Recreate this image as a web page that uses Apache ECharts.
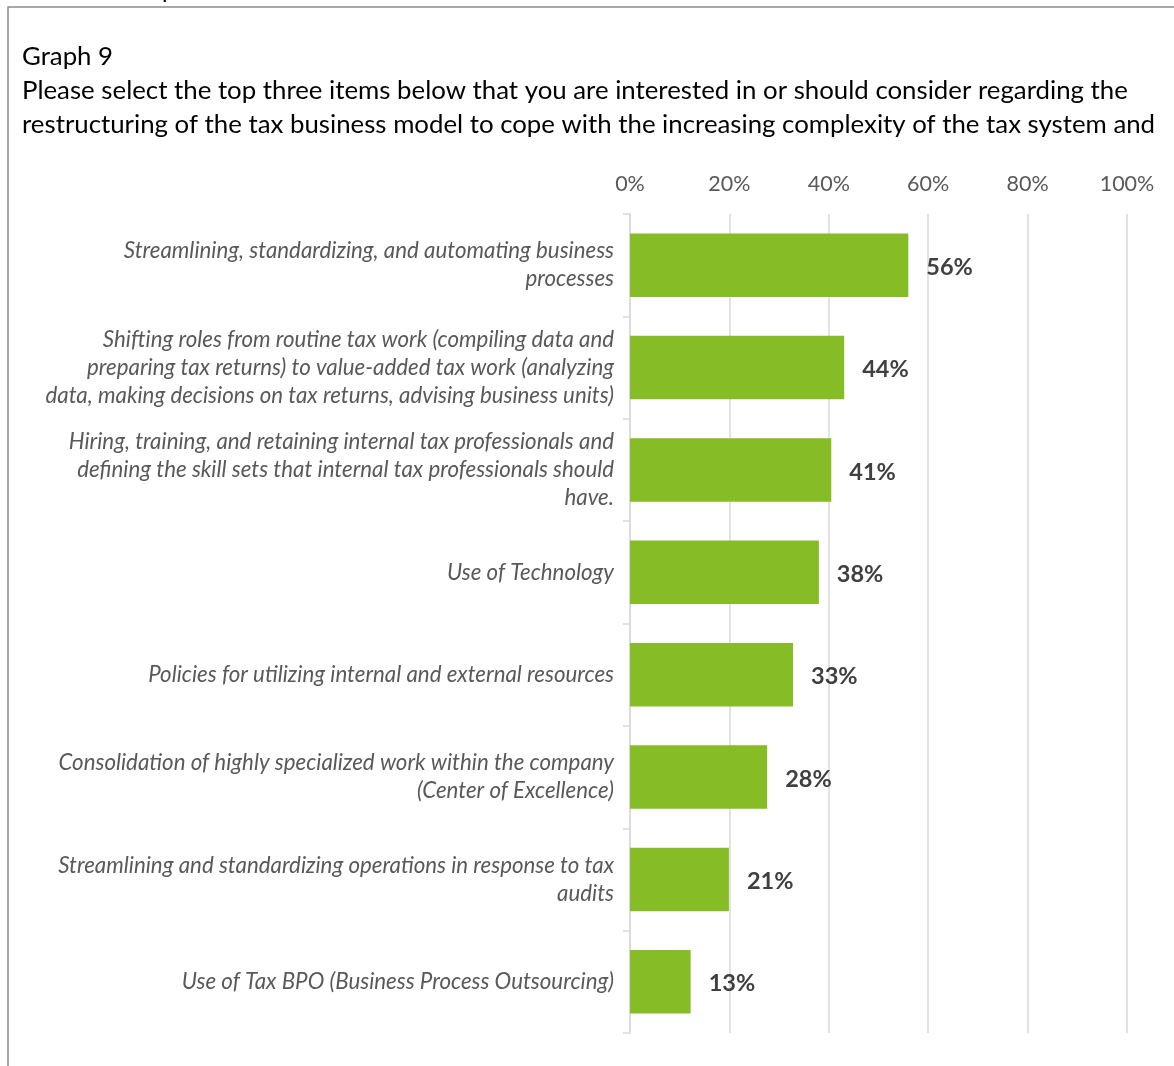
<!DOCTYPE html>
<html>
<head>
<meta charset="utf-8">
<style>
html,body{margin:0;padding:0;background:#fff;}
#chart{width:1174px;height:1066px;}
</style>
<script src="https://cdn.jsdelivr.net/npm/echarts@6/dist/echarts.min.js"></script>
</head>
<body>
<div id="chart"></div>
<script>
const titleLines = [
  "Graph 9",
  "Please select the top three items below that you are interested in or should consider regarding the",
  "restructuring of the tax business model to cope with the increasing complexity of the tax system and"
];
const categories = [
  "Streamlining, standardizing, and automating business\nprocesses",
  "Shifting roles from routine tax work (compiling data and\npreparing tax returns) to value-added tax work (analyzing\ndata, making decisions on tax returns, advising business units)",
  "Hiring, training, and retaining internal tax professionals and\ndefining the skill sets that internal tax professionals should\nhave.",
  "Use of Technology",
  "Policies for utilizing internal and external resources",
  "Consolidation of highly specialized work within the company\n(Center of Excellence)",
  "Streamlining and standardizing operations in response to tax\naudits",
  "Use of Tax BPO (Business Process Outsourcing)"
];
const values = [56, 43.1, 40.5, 38, 32.8, 27.6, 19.9, 12.2];
const valueLabels = ["56%", "44%", "41%", "38%", "33%", "28%", "21%", "13%"];
const axisMin = 0, axisMax = 100, axisStep = 20;

const FONT = "Lato";
const chart = echarts.init(document.getElementById('chart'), null, {renderer: 'canvas'});
chart.setOption({
  backgroundColor: '#ffffff',
  animation: false,
  title: {
    text: titleLines.join('\n'),
    left: 22, top: 40, padding: 0,
    textStyle: {fontFamily: FONT, fontSize: 25.8, fontWeight: 'normal', color: '#000000', lineHeight: 34}
  },
  graphic: [
    {type: 'polyline', shape: {points: [[8, 1066], [8, 7], [1174, 7]]}, style: {stroke: '#8c8c8c', lineWidth: 1.5, fill: null}, silent: true},
    {type: 'text', left: 162, top: -22, style: {text: 'p', fontFamily: FONT, fontSize: 24, fill: '#000'}, silent: true}
  ],
  grid: {left: 630, right: 47, top: 214, bottom: 33, containLabel: false},
  xAxis: {
    type: 'value', position: 'top', min: axisMin, max: axisMax, interval: axisStep,
    axisLine: {show: false}, axisTick: {show: false},
    axisLabel: {formatter: '{value}%', color: '#595959', fontFamily: FONT, fontSize: 21.5, margin: 19},
    splitLine: {show: true, lineStyle: {color: '#d9d9d9', width: 1.5}}
  },
  yAxis: {
    type: 'category', inverse: true, data: categories,
    axisLine: {show: true, lineStyle: {color: '#d9d9d9', width: 1.5}},
    axisTick: {show: true, length: 7, lineStyle: {color: '#d9d9d9', width: 1.5}},
    axisLabel: {color: '#595959', fontFamily: FONT, fontStyle: 'italic', fontSize: 22.3, lineHeight: 28, margin: 16, align: 'right'}
  },
  series: [{
    type: 'bar', data: values, barWidth: '62%',
    itemStyle: {color: '#86bc25'},
    label: {
      show: true, position: 'right', distance: 18, offset: [0, 2],
      formatter: p => valueLabels[p.dataIndex],
      color: '#404040', fontFamily: FONT, fontWeight: 'bold', fontSize: 23.5
    }
  }]
});
</script>
</body>
</html>
